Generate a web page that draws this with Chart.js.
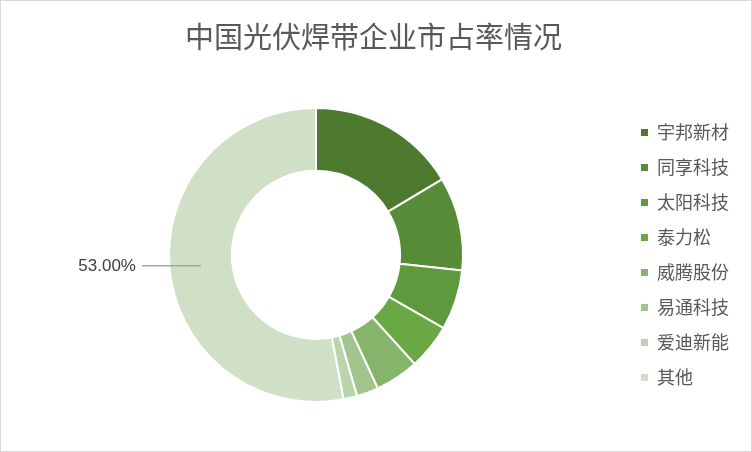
<!DOCTYPE html>
<html>
<head>
<meta charset="utf-8">
<script src="https://cdn.jsdelivr.net/npm/chart.js@4.4.0/dist/chart.umd.min.js"></script>
<style>
 html, body { margin: 0; padding: 0; background: #fff; }
 #wrap { width: 752px; height: 452px; box-sizing: border-box; border: 1px solid #d9d9d9; }
</style>
</head>
<body>
<div id="wrap"><canvas id="share" width="750" height="450"></canvas></div>
<script>
var companies = ['宇邦新材', '同享科技', '太阳科技', '泰力松', '威腾股份', '易通科技', '爱迪新能', '其他'];
var shares = [16.4, 10.3, 6.6, 5.0, 4.8, 2.4, 1.5, 53.0];
var colors = ['#4d7a2f', '#588b37', '#5f993d', '#6aa843', '#84b56a', '#a2c590', '#bad5ab', '#d0e0c6'];
var labelled = [7]; // only "其他" carries a data label

var cjk = '"Noto Sans CJK SC", "Noto Sans", sans-serif';

// draws the percentage label with a leader line for the labelled slices
var outsideLabel = {
 id: 'outsideLabel',
 afterDatasetsDraw: function(chart) {
  var ctx = chart.ctx;
  var meta = chart.getDatasetMeta(0);
  labelled.forEach(function(i) {
   var arc = meta.data[i];
   var p = arc.getProps(['x', 'y', 'startAngle', 'endAngle', 'innerRadius', 'outerRadius'], true);
   var mid = (p.startAngle + p.endAngle) / 2;
   var r = (p.innerRadius + p.outerRadius) / 2;
   var px = p.x + Math.cos(mid) * r;
   var py = p.y + Math.sin(mid) * r;
   ctx.save();
   ctx.strokeStyle = '#a6a6a6';
   ctx.lineWidth = 1.5;
   ctx.beginPath();
   ctx.moveTo(px, py);
   ctx.lineTo(px - 59, py);
   ctx.stroke();
   ctx.fillStyle = '#404040';
   ctx.font = '17px "Liberation Sans", sans-serif';
   ctx.textAlign = 'right';
   ctx.textBaseline = 'middle';
   ctx.fillText(shares[i].toFixed(2) + '%', px - 65, py + 1);
   ctx.restore();
  });
 }
};

var config = {
 type: 'doughnut',
 data: {
  labels: companies,
  datasets: [{
   data: shares,
   backgroundColor: colors,
   borderColor: '#ffffff',
   borderWidth: 2,
   radius: 147,
   cutout: '57.2%'
  }]
 },
 options: {
  responsive: false,
  animation: false,
  layout: { padding: { left: 7, right: 12, top: 0, bottom: 0 } },
  plugins: {
   title: {
    display: true,
    text: '中国光伏焊带企业市占率情况',
    color: '#595959',
    font: { family: cjk, size: 29, weight: 'normal' },
    padding: { top: 19, bottom: 4 }
   },
   legend: {
    position: 'right',
    fullSize: false,
    labels: {
     boxWidth: 7,
     boxHeight: 7,
     padding: 17,
     color: '#595959',
     font: { family: cjk, size: 18 },
     generateLabels: function(chart) {
      return Chart.overrides.doughnut.plugins.legend.labels.generateLabels(chart).map(function(l) {
       l.lineWidth = 0;
       return l;
      });
     }
    }
   },
   tooltip: { enabled: false }
  }
 },
 plugins: [outsideLabel]
};

window.onload = function() {
 var ctx = document.getElementById('share').getContext('2d');
 window.shareChart = new Chart(ctx, config);
};
</script>
</body>
</html>
